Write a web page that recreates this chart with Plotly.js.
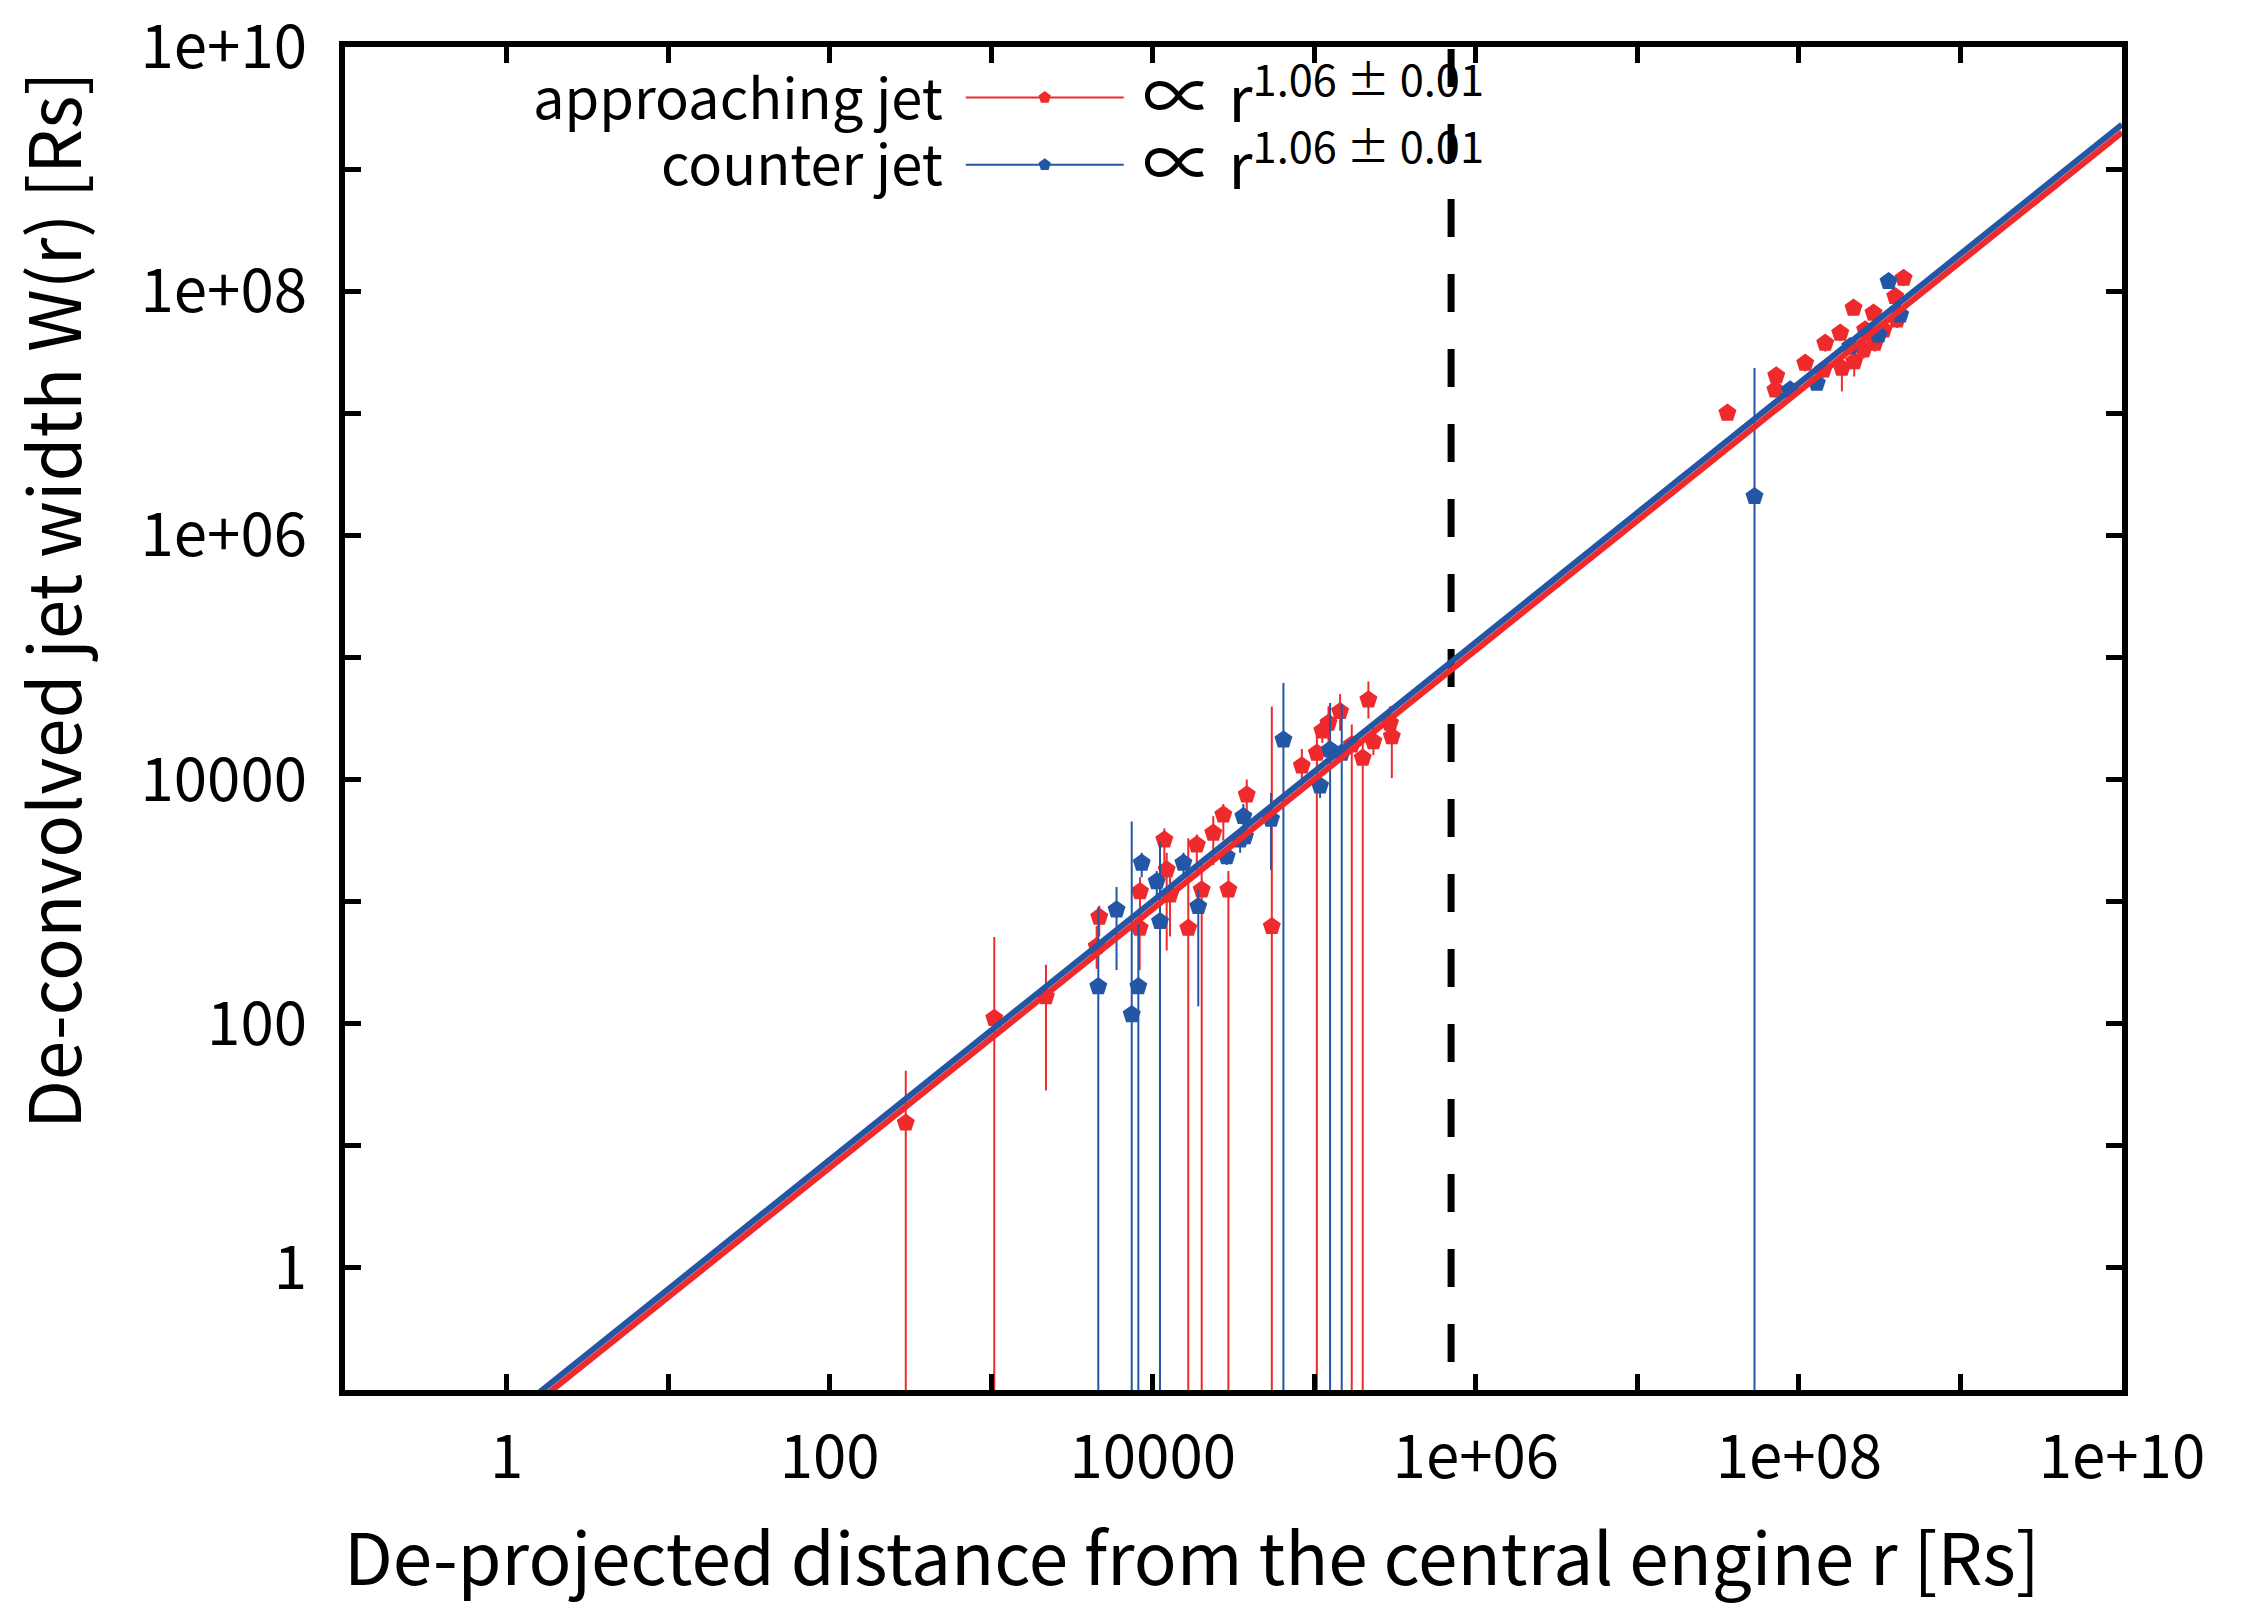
<!DOCTYPE html>
<html>
<head>
<meta charset="utf-8">
<script src="https://cdn.plot.ly/plotly-3.0.1.min.js"></script>
<style>
html, body { margin: 0; padding: 0; background: #ffffff; }
#chart { width: 2242px; height: 1615px; }
</style>
</head>
<body>
<div id="chart"></div>
<script>
// approaching jet: distance r [Rs], width W [Rs], error bar low / high ends
// (0.001 = error bar running off the bottom of the plot)
var redR = [296, 1045, 2183, 4667, 4498, 8337, 8300, 11800, 12200, 12800,
    16600, 18750, 20100, 23700, 29400, 27350, 38200, 54600, 83750, 103750,
    122500, 144500, 170600, 199500, 216300, 232300, 302000, 294400, 112200,
    3.61e7, 7.24e7, 7.15e7, 1.094e8, 1.455e8, 1.803e8, 2.178e8, 2.57e8, 2.897e8,
    3.945e8, 4.446e8, 1.845e8, 2.2e8, 2.95e8, 2.512e8, 3.342e8, 4.046e8, 1.419e8];
var redW = [15.4, 111, 167, 748, 430, 1211, 607, 3214, 1824, 1140,
    607, 2924, 1250, 3648, 1250, 5152, 7516, 627, 12970, 16480,
    29040, 36140, 19280, 15000, 45080, 20510, 22540, 29040, 25120,
    1.005e7, 2.028e7, 1.556e7, 2.576e7, 3.758e7, 4.539e7, 7.278e7, 4.831e7, 6.622e7,
    9.057e7, 1.279e8, 2.344e7, 2.655e7, 3.758e7, 3.311e7, 4.831e7, 5.834e7, 2.275e7];
var redLo = [0.001, 0.001, 28.4, 519, 282, 891, 275, 1995, 398, 519,
    0.001, 1585, 0.001, 1995, 0.001, 3162, 3981, 0.001, 8913, 0.001,
    19950, 25120, 0.001, 0.001, 31620, 15850, 10280, 19950, 19950,
    8.9e6, 1.75e7, 1.35e7, 2.2e7, 3.2e7, 3.9e7, 6.3e7, 4.1e7, 5.7e7,
    7.8e7, 1.1e8, 1.51e7, 2.0e7, 3.2e7, 2.8e7, 4.1e7, 5.0e7, 1.95e7];
var redHi = [41.2, 513, 304, 925, 631, 1585, 891, 3981, 2512, 1585,
    3311, 3548, 1995, 5012, 1778, 6310, 10000, 39720, 17780, 23990,
    39810, 50120, 28180, 19950, 63530, 28180, 31620, 39810, 31620,
    1.12e7, 2.35e7, 1.8e7, 3.0e7, 4.3e7, 5.2e7, 8.4e7, 5.6e7, 7.6e7,
    1.04e8, 1.47e8, 2.7e7, 3.05e7, 4.3e7, 3.8e7, 5.6e7, 6.7e7, 2.6e7];

// counter jet
var blueR = [4603, 5970, 8147, 7413, 11090, 19140, 8551, 10590, 15490, 34750,
    54000, 64420, 36390, 37240, 108600, 125300, 147900, 28710,
    5.309e7, 8.831e7, 1.291e8, 3.589e8, 4.236e8, 3.112e8, 2.08e8];
var blueW = [202, 859, 202, 119, 689, 914, 2070, 1462, 2070, 3214,
    4753, 21180, 4989, 3420, 8892, 17540, 16480, 2344,
    2.084e6, 1.556e7, 1.766e7, 1.202e8, 6.412e7, 4.395e7, 3.524e7];
var blueLo = [0.001, 275, 0.001, 0.001, 0.001, 139, 1585, 1122, 1585, 2512,
    1820, 0.001, 3981, 2818, 7079, 0.001, 0.001, 1995,
    0.001, 1.35e7, 1.55e7, 1.05e8, 5.6e7, 3.8e7, 3.05e7];
var blueHi = [904, 1318, 741, 4539, 3112, 1259, 2512, 1778, 2512, 3981,
    7762, 61660, 6310, 4169, 11220, 42360, 41690, 2818,
    2.344e7, 1.8e7, 2.05e7, 1.38e8, 7.4e7, 5.05e7, 4.05e7];

// power-law fits W = A r^slope
var fitSlope = 1.06;
var fitLogARed = -1.30;
var fitLogABlue = -1.235;
var fitR = [0.1, 1e10];

// vertical dashed marker at r ~ 7e5 Rs
var markR = 7.03e5;
var markW = [0.01, 1.43e10];

var tickVals = [1, 10, 100, 1e3, 1e4, 1e5, 1e6, 1e7, 1e8, 1e9, 1e10];
var tickText = ['1', '', '100', '', '10000', '', '1e+06', '', '1e+08', '', '1e+10'];

var RED = '#ee2a2c';
var BLUE = '#2356a5';
var FONT = '"Noto Sans CJK JP", "Noto Sans", sans-serif';
var LEGEND_NAME = '\u00a0<span style="font-size:72px">\u221d</span> r<sup>1.06 \u00b1 0.01</sup>';

function diff(a, b) { return a.map(function(v, i) { return v - b[i]; }); }
function fitLine(logA) {
    return fitR.map(function(r) { return Math.pow(10, logA) * Math.pow(r, fitSlope); });
}

var data = [
    {
        x: redR, y: redW, type: 'scatter', mode: 'markers', showlegend: false,
        marker: { symbol: 'pentagon', size: 19, color: RED },
        error_y: { type: 'data', symmetric: false, array: diff(redHi, redW),
            arrayminus: diff(redW, redLo), color: RED, thickness: 2, width: 0 }
    },
    {
        x: blueR, y: blueW, type: 'scatter', mode: 'markers', showlegend: false,
        marker: { symbol: 'pentagon', size: 19, color: BLUE },
        error_y: { type: 'data', symmetric: false, array: diff(blueHi, blueW),
            arrayminus: diff(blueW, blueLo), color: BLUE, thickness: 2, width: 0 }
    },
    {
        x: fitR, y: fitLine(fitLogABlue), type: 'scatter', mode: 'lines', showlegend: false,
        line: { color: BLUE, width: 6 }
    },
    {
        x: fitR, y: fitLine(fitLogARed), type: 'scatter', mode: 'lines', showlegend: false,
        line: { color: RED, width: 6 }
    },
    // legend entries only, one legend box per row
    {
        x: [null], y: [null], type: 'scatter', mode: 'lines+markers', name: LEGEND_NAME,
        legend: 'legend',
        line: { color: RED, width: 2 }, marker: { symbol: 'pentagon', size: 13, color: RED }
    },
    {
        x: [null], y: [null], type: 'scatter', mode: 'lines+markers', name: LEGEND_NAME,
        legend: 'legend2',
        line: { color: BLUE, width: 2 }, marker: { symbol: 'pentagon', size: 13, color: BLUE }
    }
];

var axisCommon = {
    type: 'log',
    range: [-1, 10],
    tickmode: 'array',
    tickvals: tickVals,
    ticktext: tickText,
    ticks: 'inside',
    ticklen: 16,
    tickwidth: 5,
    tickcolor: '#000',
    showline: true,
    linewidth: 6,
    linecolor: '#000',
    mirror: 'allticks',
    showgrid: false,
    zeroline: false,
    ticklabeloverflow: 'allow',
    tickfont: { family: FONT, size: 60, color: '#000' }
};

var legendCommon = {
    x: 0.3465, xanchor: 'left', yanchor: 'middle',
    bgcolor: 'rgba(0,0,0,0)',
    itemwidth: 158,
    font: { family: FONT, size: 62, color: '#000' }
};

var layout = {
    width: 2242,
    height: 1615,
    margin: { l: 345, r: 120, t: 47, b: 225 },
    paper_bgcolor: '#ffffff',
    plot_bgcolor: '#ffffff',
    font: { family: FONT, color: '#000' },
    xaxis: Object.assign({}, axisCommon, { ticklabelstandoff: 10 }),
    yaxis: Object.assign({}, axisCommon, { ticklabelstandoff: 20 }),
    showlegend: true,
    legend: Object.assign({}, legendCommon, { y: 0.9622 }),
    legend2: Object.assign({}, legendCommon, { y: 0.9121 }),
    annotations: [
        { text: 'approaching jet', xref: 'paper', yref: 'paper', x: 0.3376, y: 0.9643,
            xanchor: 'right', yanchor: 'middle', showarrow: false,
            font: { family: FONT, size: 56, color: '#000' } },
        { text: 'counter jet', xref: 'paper', yref: 'paper', x: 0.3376, y: 0.9155,
            xanchor: 'right', yanchor: 'middle', showarrow: false,
            font: { family: FONT, size: 56, color: '#000' } },
        // axis titles (placed like the original, not centred on the frame)
        { text: 'De-projected distance from the central engine r [Rs]',
            xref: 'paper', yref: 'paper', x: 0.4766, y: -0.122,
            xanchor: 'center', yanchor: 'middle', showarrow: false,
            font: { family: FONT, size: 71, color: '#000' } },
        { text: 'De-convolved jet width W(r) [Rs]', textangle: -90,
            xref: 'paper', yref: 'paper', x: -0.166, y: 0.5875,
            xanchor: 'center', yanchor: 'middle', showarrow: false,
            font: { family: FONT, size: 71, color: '#000' } }
    ],
    shapes: [
        { type: 'line', xref: 'x', yref: 'y', layer: 'below',
            x0: markR, x1: markR, y0: markW[0], y1: markW[1],
            line: { color: '#000', width: 7, dash: '38px,37px' } }
    ]
};

Plotly.newPlot('chart', data, layout, { displayModeBar: false, staticPlot: true });
</script>
</body>
</html>
